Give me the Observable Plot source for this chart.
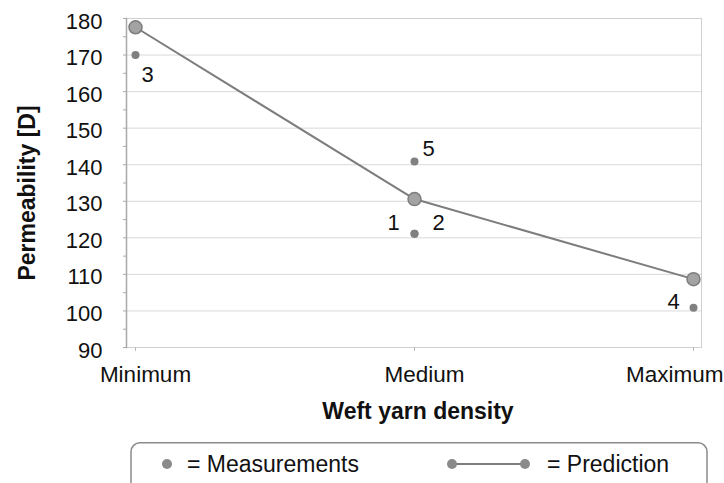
<!DOCTYPE html>
<html>
<head>
<meta charset="utf-8">
<script src="https://cdn.jsdelivr.net/npm/d3@7"></script>
<script src="https://cdn.jsdelivr.net/npm/@observablehq/plot@0.6"></script>
<style>
  html, body { margin: 0; padding: 0; background: #fff; }
  #wrap { position: relative; width: 724px; height: 483px; overflow: hidden; font-family: "Liberation Sans", Arial, sans-serif; }
</style>
</head>
<body>
<div id="wrap"></div>
<script>
// ---- data ----
const categories = ["Minimum", "Medium", "Maximum"];
const predicted = [177.6, 130.6, 108.7];
const measLabels = ["1", "2", "3", "4", "5"];
const measDensity = ["Medium", "Medium", "Minimum", "Maximum", "Medium"];
const measValues = [121.1, 121.1, 170, 100.9, 140.9];
const yTicks = [90, 100, 110, 120, 130, 140, 150, 160, 170, 180];
const xTitle = "Weft yarn density";
const yTitle = "Permeability [D]";
const legendLabels = ["= Measurements", "= Prediction"];

const predTable = categories.map((c, i) => ({density: c, value: predicted[i]}));
const meas = measLabels.map((l, i) => ({label: l, density: measDensity[i], value: measValues[i]}));
const minorTicks = d3.range(95, 180, 10);

const labelFont = 22;
const lab = (id, dx, dy) => Plot.text(meas, {
  filter: d => d.label === id, x: "density", y: "value", text: "label",
  dx, dy, fontSize: labelFont, fill: "#111"
});

const chart = Plot.plot({
  width: 724,
  height: 442,
  marginLeft: 126,
  marginRight: 23,
  marginTop: 18,
  marginBottom: 95,
  style: {fontFamily: "'Liberation Sans', Arial, sans-serif", color: "#111", background: "#fff"},
  x: {type: "point", domain: categories, padding: 0, insetLeft: 8, insetRight: 8},
  y: {domain: [90, 180]},
  marks: [
    Plot.gridY(yTicks, {stroke: "#d9d9d9", strokeOpacity: 1, strokeWidth: 1}),
    Plot.frame({stroke: "#d0d0d0"}),
    Plot.frame({anchor: "left", stroke: "#a9a9a9", strokeWidth: 1.5}),
    Plot.axisY(yTicks, {tickSize: 0, tickPadding: 24, dy: 3, fontSize: 22, fill: "#111", label: null}),
    Plot.axisY(yTicks, {tickSize: 3, tickFormat: () => "", stroke: "#aaa", label: null}),
    Plot.axisY(minorTicks, {tickSize: 3, tickFormat: () => "", stroke: "#aaa", label: null}),
    Plot.axisX({tickSize: 4, tickFormat: () => "", stroke: "#bbb", label: null}),
    Plot.text(categories, {filter: d => d !== "Maximum", x: d => d, text: d => d, frameAnchor: "bottom", dy: 34, dx: 10, fontSize: 22.5, fill: "#111"}),
    Plot.text(categories, {filter: d => d === "Maximum", x: d => d, text: d => d, frameAnchor: "bottom", dy: 34, dx: 30, textAnchor: "end", fontSize: 22.5, fill: "#111"}),
    Plot.text([xTitle], {text: d => d, frameAnchor: "bottom", dy: 71, dx: 4, fontSize: 23, fontWeight: "bold", fill: "#111"}),
    Plot.text([yTitle], {text: d => d, frameAnchor: "left", textAnchor: "middle", rotate: -90, dx: -99, dy: 10, fontSize: 23, fontWeight: "bold", fill: "#111"}),
    Plot.line(predTable, {x: "density", y: "value", stroke: "#7d7d7d", strokeWidth: 2}),
    Plot.dot(predTable, {x: "density", y: "value", r: 6.5, fill: "#a3a3a3", stroke: "#7d7d7d", strokeWidth: 1.5}),
    Plot.dot(meas, {x: "density", y: "value", r: 4, fill: "#808080"}),
    lab("3", 12, 20),
    lab("5", 14, -12),
    lab("1", -21, -11),
    lab("2", 24, -11),
    lab("4", -20, -6)
  ]
});

const wrap = document.getElementById("wrap");
wrap.appendChild(chart);

// legend below the chart
const ns = "http://www.w3.org/2000/svg";
const leg = document.createElementNS(ns, "svg");
leg.setAttribute("width", 724);
leg.setAttribute("height", 41);
leg.style.display = "block";
leg.style.fontFamily = "'Liberation Sans', Arial, sans-serif";
const add = (tag, attrs, txt) => {
  const e = document.createElementNS(ns, tag);
  for (const k in attrs) e.setAttribute(k, attrs[k]);
  if (txt) e.textContent = txt;
  leg.appendChild(e);
  return e;
};
add("rect", {x: 131, y: 0.75, width: 576, height: 60, rx: 9, ry: 9, fill: "none", stroke: "#8a8a8a", "stroke-width": 1.5});
add("circle", {cx: 167, cy: 22, r: 5, fill: "#8a8a8a"});
add("text", {x: 187, y: 30, "font-size": 23, fill: "#111"}, legendLabels[0]);
add("line", {x1: 452, x2: 525, y1: 22, y2: 22, stroke: "#7d7d7d", "stroke-width": 2});
add("circle", {cx: 452, cy: 22, r: 5, fill: "#8a8a8a"});
add("circle", {cx: 525, cy: 22, r: 5, fill: "#8a8a8a"});
add("text", {x: 547, y: 30, "font-size": 23, fill: "#111"}, legendLabels[1]);
wrap.appendChild(leg);
</script>
</body>
</html>
